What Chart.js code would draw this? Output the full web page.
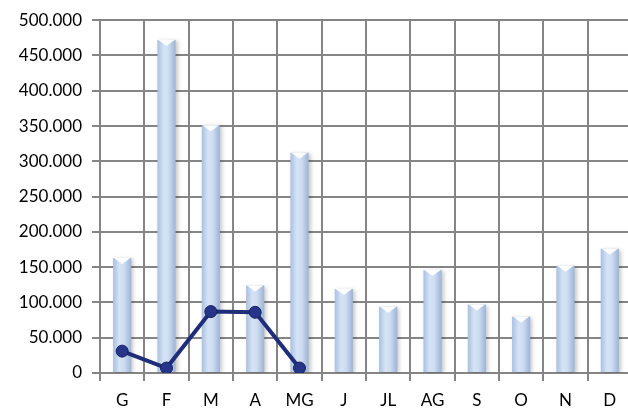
<!DOCTYPE html>
<html>
<head>
<meta charset="utf-8">
<script src="https://cdn.jsdelivr.net/npm/chart.js@4/dist/chart.umd.min.js"></script>
<style>
  html, body { margin: 0; padding: 0; background: #fff; overflow: hidden; }
  #wrap { width: 640px; height: 411px; }
</style>
</head>
<body>
<div id="wrap"><canvas id="chart" width="640" height="411"></canvas></div>
<script>
const months = ['G', 'F', 'M', 'A', 'MG', 'J', 'JL', 'AG', 'S', 'O', 'N', 'D'];
const barValues = [163000, 472000, 351000, 124000, 312000, 119000, 94000, 146000, 97000, 80000, 152000, 176000];
const lineValues = [31000, 7000, 87000, 86000, 7000, null, null, null, null, null, null, null];

const gridColor = '#858585';
const barPct = 0.82;
const catPct = 0.5;

// horizontal gradient per bar, worked out from the x scale
const barFill = (ctx) => {
  const chart = ctx.chart;
  const xScale = chart.scales.x;
  if (!chart.chartArea || !xScale) return '#c6d9f0';
  const cx = xScale.getPixelForValue(ctx.dataIndex);
  const half = (xScale.width / months.length) * barPct * catPct / 2;
  const g = chart.ctx.createLinearGradient(cx - half, 0, cx + half, 0);
  g.addColorStop(0, '#a9c0df');
  g.addColorStop(0.35, '#d5e3f5');
  g.addColorStop(0.6, '#cfddf1');
  g.addColorStop(1, '#9cb4d6');
  return g;
};

// soft shadow and white bevel on top of each bar
const cylinder = {
  id: 'cylinder',
  beforeDatasetDraw(chart, args) {
    if (args.meta.type !== 'bar') return;
    const c = chart.ctx;
    c.save();
    c.shadowColor = 'rgba(0,0,0,0.22)';
    c.shadowBlur = 4;
    c.shadowOffsetX = 2;
    c.shadowOffsetY = 1;
  },
  afterDatasetDraw(chart, args) {
    if (args.meta.type !== 'bar') return;
    const c = chart.ctx;
    c.restore();
    c.save();
    args.meta.data.forEach((bar) => {
      const half = bar.width / 2;
      c.fillStyle = 'rgba(255,255,255,0.95)';
      c.beginPath();
      c.moveTo(bar.x - half + 1, bar.y);
      c.lineTo(bar.x + half - 1, bar.y);
      c.lineTo(bar.x, bar.y + 6);
      c.closePath();
      c.fill();
    });
    c.restore();
  },
};

new Chart(document.getElementById('chart'), {
  data: {
    labels: months,
    datasets: [
      {
        type: 'line',
        data: lineValues,
        borderColor: '#1f2d7a',
        borderWidth: 4,
        pointRadius: 6,
        pointBackgroundColor: '#26358a',
        pointBorderColor: '#17215e',
        pointBorderWidth: 1,
        order: 0,
      },
      {
        type: 'bar',
        data: barValues,
        backgroundColor: barFill,
        barPercentage: barPct,
        categoryPercentage: catPct,
        order: 1,
      },
    ],
  },
  plugins: [cylinder],
  options: {
    responsive: false,
    animation: false,
    layout: { padding: { top: 17, right: 8, left: 0, bottom: 0 } },
    plugins: {
      legend: { display: false },
      tooltip: { enabled: false },
    },
    scales: {
      x: {
        grid: { color: gridColor, lineWidth: 2, tickLength: 8, offset: true },
        border: { color: gridColor, width: 2 },
        ticks: { color: '#000', padding: 9, font: { family: 'Lato', size: 17 } },
        afterFit: (scale) => { scale.height = 38; },
      },
      y: {
        min: 0,
        max: 500000,
        grid: { color: gridColor, lineWidth: 2, tickLength: 8 },
        border: { color: gridColor, width: 2 },
        ticks: {
          stepSize: 50000,
          color: '#000',
          padding: 10,
          font: { family: 'Lato', size: 17 },
          callback: (v) => (v === 0 ? '0' : (v / 1000).toFixed(3)),
        },
        afterFit: (scale) => { scale.width = 100; },
      },
    },
  },
});
</script>
</body>
</html>
